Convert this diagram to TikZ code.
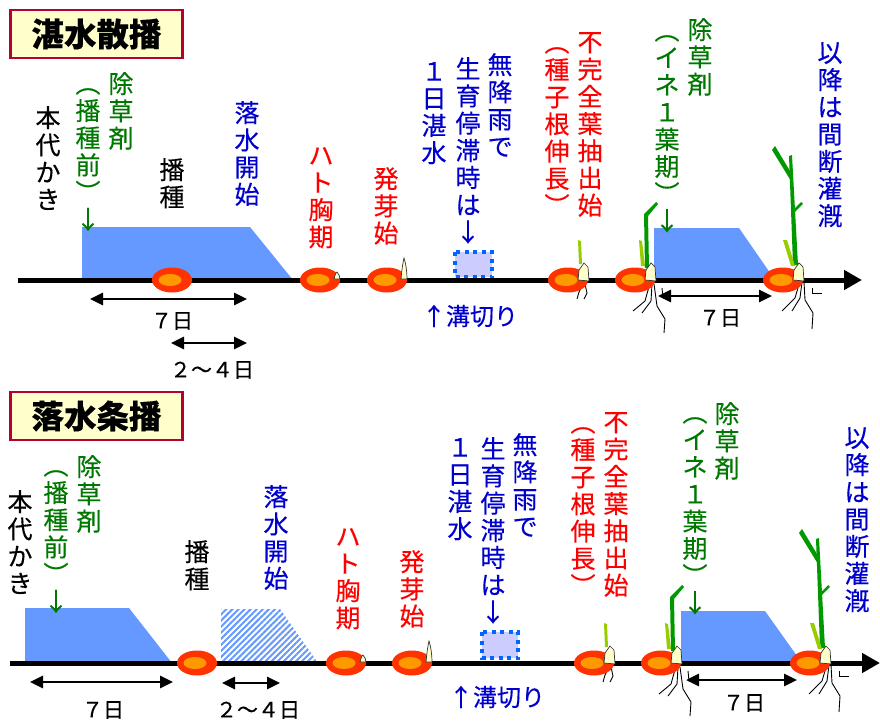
\documentclass[tikz,border=0pt]{standalone}
\usepackage{fontspec}
\setmainfont{Noto Sans CJK JP}[FakeBold=0.3]
\usetikzlibrary{arrows.meta,patterns.meta}

\definecolor{textred}{RGB}{255,0,0}
\definecolor{textblue}{RGB}{0,0,204}
\definecolor{textgreen}{RGB}{0,119,0}
\definecolor{water}{RGB}{102,153,255}
\definecolor{seedred}{RGB}{255,51,0}
\definecolor{seedorange}{RGB}{255,153,0}
\definecolor{hull}{RGB}{255,255,204}
\definecolor{leafgreen}{RGB}{0,153,0}
\definecolor{sproutgreen}{RGB}{153,204,0}
\definecolor{framered}{RGB}{180,0,50}
\definecolor{boxblue}{RGB}{0,102,255}
\definecolor{boxfill}{RGB}{204,204,255}

\tikzset{
  vcol/.style={anchor=north, inner sep=0pt, align=center,
    font=\fontsize{25}{27.2}\selectfont},
  blackcol/.style={vcol, text=black},
  redcol/.style={vcol, text=textred},
  bluecol/.style={vcol, text=textblue},
  greencol/.style={vcol, text=textgreen},
  titlebox/.style={draw=framered, fill=hull, line width=2.5pt, inner sep=0pt,
    minimum width=172pt, minimum height=48pt,
    font=\fontsize{32.5}{34}\selectfont\bfseries},
  days/.style={inner sep=0pt, font=\fontsize{21}{22}\selectfont},
  ditchlabel/.style={inner sep=0pt, text=textblue, font=\fontsize{24}{26}\selectfont},
  dimarrow/.style={arrows={Triangle[length=13pt,width=12pt]-Triangle[length=13pt,width=12pt]},
    line width=2.8pt},
  timeline/.style={arrows={-Triangle[length=18pt,width=19pt]}, line width=5pt},
  ditch/.style={fill=boxfill, draw=boxblue, line width=4pt,
    dash pattern=on 4pt off 4.5pt},
  flood/.style={fill=water},
  drained/.style={pattern={Lines[angle=45,distance=4.3pt,line width=2pt]},
    pattern color=water},
  rootline/.style={draw=black, line width=0.9pt},
  shell/.style={fill=hull, draw=black!80, line width=0.7pt},
  % seed grain, then the stages of growth on top of it
  pics/grain/.style={code={
    \fill[seedred] (0,0) ellipse [x radius=20, y radius=12.5];
    \fill[seedorange] (-2,0) ellipse [x radius=11.5, y radius=6];
  }},
  pics/budding/.style={code={
    \pic {grain};
    \filldraw[shell] (14,-1) .. controls (15,-5) and (16,-8) .. (17,-8)
      .. controls (19,-6) and (20,-3) .. (20,-1) -- cycle;
  }},
  pics/sprouting/.style={code={
    \pic {grain};
    \filldraw[shell] (14,-1) .. controls (15,-12) and (16,-18) .. (17,-22)
      .. controls (19,-16) and (20,-8) .. (20,-1) -- cycle;
  }},
  pics/leafing/.style={code={
    \draw[rootline] (15,4) -- (11,12) -- (9,19);
    \draw[rootline] (17,4) -- (19,13) -- (16,19);
    \fill[sproutgreen] (10,-40) -- (13,-39) -- (14,-16) -- (11,-16) -- cycle;
    \pic {grain};
    \filldraw[shell] (10,0) -- (11,-10) -- (16,-17) -- (20,-13) -- (21,1) -- cycle;
  }},
  pics/seedling/.style={code={
    \draw[rootline] (15,3) -- (10,21) -- (-2,31);
    \draw[rootline] (17,4) -- (16,21) -- (7,33);
    \draw[rootline] (19,4) -- (22,26) -- (30,39) -- (29,53);
    \draw[rootline] (27,8) -- (28,18) -- (33,18);
    \fill[leafgreen] (10,-12) -- (9,-66) -- (21,-78) -- (23,-76) -- (13,-64) -- (14,-12) -- cycle;
    \fill[sproutgreen] (4,-40) -- (7,-39) -- (10,-14) -- (6,-14) -- cycle;
    \pic {grain};
    \filldraw[shell] (10,0) -- (11,-10) -- (16,-17) -- (20,-13) -- (21,1) -- cycle;
  }},
  pics/riceplant/.style={code={
    \draw[rootline] (17,1) -- (12,18) -- (-1,31);
    \draw[rootline] (19,2) -- (17,18) -- (9,31);
    \draw[rootline] (21,2) -- (22,20) -- (30,33) -- (29,49);
    \draw[rootline] (29,8) -- (29,13) -- (39,13);
    \fill[leafgreen] (10,-15) -- (6,-124) -- (9,-125) -- (15,-15) -- cycle;
    \fill[leafgreen] (-11,-130) -- (-8,-134) -- (10,-104) -- (8,-99) -- cycle;
    \draw[leafgreen, line width=2.5pt] (10,-68) -- (19,-77);
    \fill[sproutgreen] (0,-40) -- (4,-40) -- (12,-14) -- (8,-14) -- cycle;
    \pic {grain};
    \filldraw[shell] (10,0) -- (11,-10) -- (16,-17) -- (20,-13) -- (21,1) -- cycle;
  }},
}

\begin{document}
\begin{tikzpicture}[x=1pt,y=-1pt]
\useasboundingbox (0,0) rectangle (880,720);

%% 湛水散播
\node[titlebox] (titleA) at (96.5,34) {湛水散播};

\fill[flood] (82,227) -- (250,227) -- (293,280) -- (82,280) -- cycle;
\fill[flood] (654,228) -- (739,228) -- (775,280) -- (654,280) -- cycle;
\draw[ditch] (455,252) rectangle (492,277);
\draw[timeline] (18,280) -- (862,280);

\pic at (172,280) {grain};
\pic at (320,280) {budding};
\pic at (387,280) {sprouting};
\pic at (568,280) {leafing};
\pic at (635,280) {seedling};
\pic at (783,280) {riceplant};

\node[blackcol] (kakiA) at (48,106) {本\\代\\か\\き};
\node[greencol] (preA) at (88,88) {︵\\播\\種\\前\\︶\\↓};
\node[greencol] (herbA) at (121,72) {除\\草\\剤};
\node[blackcol] (sowA) at (172,158) {播\\種};
\node[bluecol] (drainA) at (247,101) {落\\水\\開\\始};
\node[redcol] (hatoA) at (321,147) {ハ\\ト\\胸\\期};
\node[redcol] (budA) at (386,167) {発\\芽\\始};
\node[bluecol] (floodA) at (434,62) {１\\日\\湛\\水};
\node[bluecol] (stallA) at (468,57) {生\\育\\停\\滞\\時\\は\\↓};
\node[bluecol] (rainA) at (500,53) {無\\降\\雨\\で};
\node[redcol] (rootA) at (557,47) {︵\\種\\子\\根\\伸\\長\\︶};
\node[redcol] (leafA) at (590,32) {不\\完\\全\\葉\\抽\\出\\始};
\node[greencol] (oneleafA) at (667,35) {︵\\イ\\ネ\\１\\葉\\期\\︶\\↓};
\node[greencol] (herbB) at (700,18) {除\\草\\剤};
\node[bluecol] (interA) at (830,42) {以\\降\\は\\間\\断\\灌\\漑};

\draw[dimarrow] (90,299) -- (247,299);
\node[days] (sevenA) at (172,321) {７日};
\draw[dimarrow] (171,343) -- (247,343);
\node[days] (twofourA) at (212,370) {２～４日};
\node[ditchlabel] (ditchA) at (470,316) {↑溝切り};
\draw[dimarrow] (658,296) -- (772,296);
\node[days] (sevenB) at (720,318) {７日};

%% 落水条播
\node[titlebox] (titleB) at (96.5,416) {落水条播};

\fill[flood] (25,608) -- (129,608) -- (172,663) -- (25,663) -- cycle;
\fill[drained] (221,609) -- (280,609) -- (318,663) -- (221,663) -- cycle;
\fill[flood] (681,611) -- (765,611) -- (802,663) -- (681,663) -- cycle;
\draw[ditch] (482,632) rectangle (518,658);
\draw[timeline] (10,663) -- (880,663);

\pic at (197,663) {grain};
\pic at (346,663) {budding};
\pic at (412,663) {sprouting};
\pic at (594,663) {leafing};
\pic at (661,663) {seedling};
\pic at (810,663) {riceplant};

\node[blackcol] (kakiB) at (20,490) {本\\代\\か\\き};
\node[greencol] (preB) at (56,470) {︵\\播\\種\\前\\︶\\↓};
\node[greencol] (herbC) at (89,455) {除\\草\\剤};
\node[blackcol] (sowB) at (197,540) {播\\種};
\node[bluecol] (drainB) at (276,485) {落\\水\\開\\始};
\node[redcol] (hatoB) at (348,528) {ハ\\ト\\胸\\期};
\node[redcol] (budB) at (412,550) {発\\芽\\始};
\node[bluecol] (floodB) at (460,438) {１\\日\\湛\\水};
\node[bluecol] (stallB) at (493,437) {生\\育\\停\\滞\\時\\は\\↓};
\node[bluecol] (rainB) at (525,433) {無\\降\\雨\\で};
\node[redcol] (rootB) at (583,427) {︵\\種\\子\\根\\伸\\長\\︶};
\node[redcol] (leafB) at (616,412) {不\\完\\全\\葉\\抽\\出\\始};
\node[greencol] (oneleafB) at (695,417) {︵\\イ\\ネ\\１\\葉\\期\\︶\\↓};
\node[greencol] (herbD) at (727,402) {除\\草\\剤};
\node[bluecol] (interB) at (857,427) {以\\降\\は\\間\\断\\灌\\漑};

\draw[dimarrow] (30,682) -- (173,682);
\node[days] (sevenC) at (103,710) {７日};
\draw[dimarrow] (222,683) -- (280,683);
\node[days] (twofourB) at (258,710) {２～４日};
\node[ditchlabel] (ditchB) at (497,697) {↑溝切り};
\draw[dimarrow] (686,680) -- (797,680);
\node[days] (sevenD) at (744,703) {７日};
\end{tikzpicture}
\end{document}
